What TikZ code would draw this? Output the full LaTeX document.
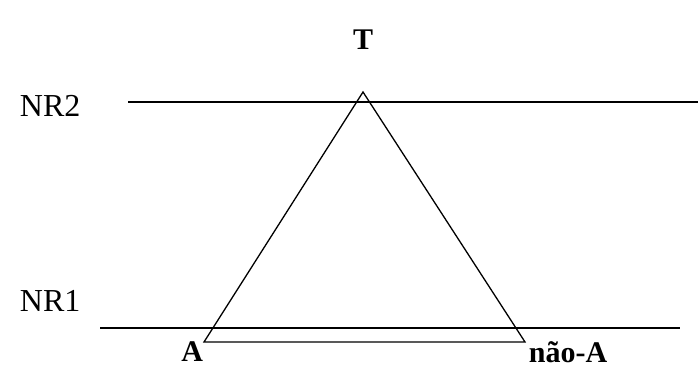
\documentclass[tikz,border=0pt]{standalone}
\usepackage{fontspec}
\setmainfont{Liberation Serif}
\begin{document}
\begin{tikzpicture}[x=1pt,y=-1pt,line width=1.8pt,every node/.style={font=\fontsize{32}{36}\selectfont,inner sep=0pt}]
                \useasboundingbox (0,0) rectangle (698,380);
                % levels
                \node (nr2) [anchor=west] at (19,106) {NR2};
                \node (nr1) [anchor=west] at (19,301) {NR1};
                \coordinate (nr2r) at (698,102);
                \coordinate (nr1r) at (680,328);
                \draw (128,102) coordinate (nr2l) -- (nr2r);
                \draw (100,328) coordinate (nr1l) -- (nr1r);
                % triangle
                \coordinate (top) at (363,92);
                \coordinate (left) at (204,342);
                \coordinate (right) at (525,342);
                \draw [line width=1.3pt] (top) -- (left) -- (right) -- cycle;
                \node (t) [font=\fontsize{30}{34}\selectfont\bfseries] at (363,40) {T};
                \node (a) [font=\fontsize{30}{34}\selectfont\bfseries,anchor=east] at (left) [yshift=-10pt] {A};
                \node (na) [font=\fontsize{30}{34}\selectfont\bfseries,anchor=west] at (right) [xshift=3pt,yshift=-10pt] {não-A};
            \end{tikzpicture}
\end{document}
